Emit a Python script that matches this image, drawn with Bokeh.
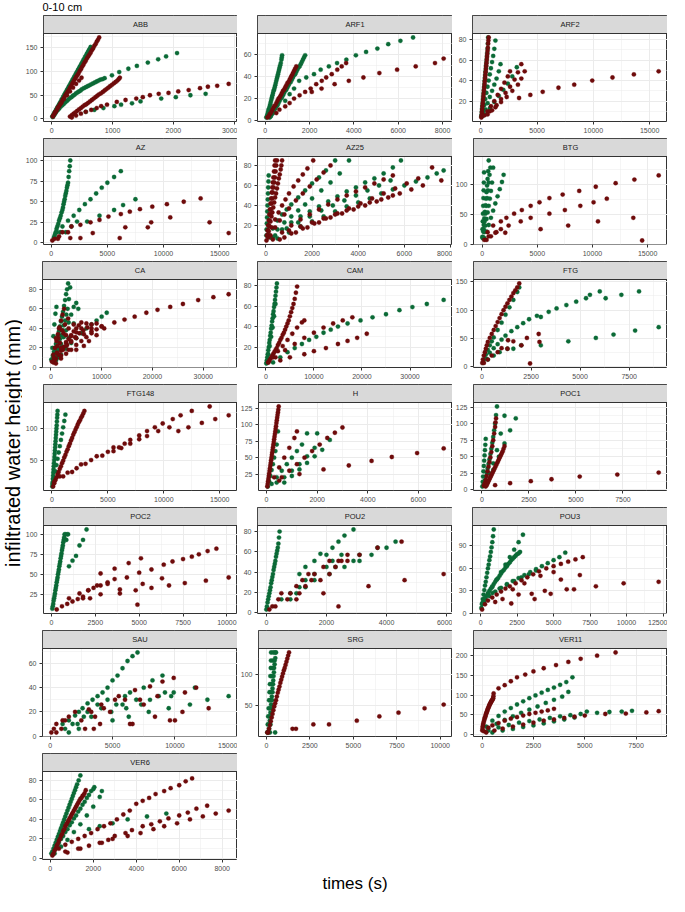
from bokeh.plotting import figure
from bokeh.layouts import column, row
from bokeh.models import FixedTicker, Range1d, Spacer
from bokeh.core.properties import value
from bokeh.embed import file_html
from bokeh.resources import INLINE
import math

# ---------------- data: (time s, infiltrated height mm) ----------------
ABB_green = [(10,5),(40,12),(70,19),(100,26),(130,33),(160,40),(190,47),(220,54),(250,61),(280,68),(310,75),(340,82),(370,89),(400,96),(430,103),(460,110),(490,117),(520,124),(550,131),(580,138),(610,145),(640,152),
             (25,8),(55,15),(85,22),(115,29),(145,36),(175,43),(205,50),(235,57),(265,64),(295,71),(325,78),(355,85),(385,92),(415,99),(445,106),(475,113),(505,120),(535,127),(565,134),(595,141),(625,148),
             (20,4),(60,12),(100,19),(150,26),(200,32),(250,38),(300,44),(350,49),(400,54),(450,58),(500,63),(560,67),(620,71),(680,75),(740,79),(800,83),(870,86),
             (40,8),(80,16),(125,22),(175,29),(225,35),(275,41),(325,46),(375,51),(425,56),(475,60),(530,65),(590,69),(650,73),(710,77),(770,81),(835,84),
             (990,92),(1110,99),(1260,106),(1400,112),(1580,119),(1750,126),(1880,132),(2060,139),
             (560,15),(700,19),(850,23),(1030,27),(1140,30),(1320,33),(1460,37),(1800,43),(2040,46),(2280,50),(2530,53)]
ABB_red = [(20,6),(60,14),(100,23),(140,31),(180,40),(220,49),(260,57),(300,66),(340,75),(380,84),(420,92),(460,101),(500,110),(540,119),(580,128),(620,136),(660,145),(700,154),(740,163),(780,172),
           (40,10),(80,18),(120,27),(160,35),(200,44),(240,53),(280,61),(320,70),(360,79),(400,88),(440,96),(480,105),(520,114),(560,123),(600,132),(640,140),(680,149),(720,158),(760,167),
           (20,5),(60,15),(100,24),(150,33),(200,42),(250,50),(300,58),(350,66),(400,74),(450,81),(490,87),
           (300,5),(360,11),(420,17),(480,23),(540,29),(600,34),(660,40),(720,46),(780,52),(840,57),(900,63),(960,69),(1020,75),(1080,81),(1120,87),
           (330,8),(390,14),(450,20),(510,26),(570,31),(630,37),(690,43),(750,49),(810,54),(870,60),(930,66),(990,72),(1050,78),(1100,84),
           (330,3),(400,7),(480,11),(560,15),(650,19),(740,23),(813,27),(909,30),(1070,36),(1214,40),(1390,43),(1497,46),(1615,50),(1759,53),(1920,55),(2080,58),(2251,61),(2438,65),(2567,68),(2720,70),(2909,74)]

ARF1_green = [(50,3),(100,6),(150,10),(200,13),(250,17),(300,21),(350,25),(400,28),(450,32),(500,36),(550,40),(600,44),(650,48),(700,52),(730,55),(760,59),
              (75,4),(125,8),(175,11),(225,15),(275,19),(325,23),(375,27),(425,30),(475,34),(525,38),(575,42),(625,46),(675,50),(745,57),
              (200,3),(300,6),(400,9),(500,13),(600,16),(700,20),(800,23),(900,27),(1000,30),(1100,34),(1200,37),(1300,41),(1400,44),(1500,48),(1600,51),(1700,55),(1800,59),
              (250,4),(350,7),(450,11),(550,14),(650,18),(750,21),(850,25),(950,28),(1050,32),(1150,35),(1250,39),(1350,42),(1450,46),(1550,49),(1650,53),(1750,57),
              (900,18),(1100,24),(1300,29),(1530,36),(1850,39),(2200,42),(2500,46),(2870,49),(3240,52),(3660,55),(4090,59),(4550,62),(5060,65),(5550,69),(6100,72),(6670,75)]
ARF1_red = [(100,3),(200,6),(300,9),(400,13),(500,16),(600,20),(700,23),(800,27),(900,30),(1000,34),(1100,37),(1200,41),(1300,45),(1400,49),
            (150,4),(250,7),(350,11),(450,14),(550,18),(650,21),(750,25),(850,28),(950,32),(1050,35),(1150,39),(1250,43),(1350,47),
            (500,7),(640,10),(900,13),(1100,16),(1300,20),(1550,23),(1800,26),(2050,29),(2300,33),(2550,36),(2750,39),(3000,42),(3250,46),(3450,49),(3650,52),
            (2100,26),(2540,29),(3130,33),(3770,36),(4430,39),(5150,43),(5950,46),(6790,49),(7660,52),(8050,56)]

ARF2_green = [(50,5),(100,10),(150,16),(200,22),(250,28),(300,34),(350,40),(400,46),(450,52),(500,58),(550,64),(600,71),(650,82),
              (75,7),(125,13),(175,19),(225,25),(275,31),(325,37),(375,43),(425,49),(475,55),(525,61),(575,67),(625,76),
              (100,5),(200,10),(300,16),(400,22),(500,28),(600,34),(700,40),(800,46),(900,52),(1000,58),(1100,64),(1200,71),(1300,79),
              (200,6),(400,12),(600,18),(800,24),(1000,30),(1200,36),(1400,42),(1600,49),(1750,56),
              (400,7),(800,13),(1200,19),(1600,25),(2000,31),(2400,37),(2800,44),(3200,53)]
ARF2_red = [(50,4),(100,9),(150,15),(200,21),(250,27),(300,33),(350,39),(400,45),(450,51),(500,57),(550,63),(600,69),(650,76),(700,82),
            (75,6),(125,12),(175,18),(225,24),(275,30),(325,36),(375,42),(425,48),(475,54),(525,60),(575,66),(625,72),(675,79),
            (300,6),(600,10),(900,15),(1200,20),(1500,26),(1800,32),(2100,38),(2400,44),(2600,49),
            (600,7),(1000,11),(1400,16),(1800,22),(2200,28),(2600,34),(3000,41),(3300,48),(3600,56),
            (800,10),(1300,14),(1800,19),(2300,24),(2800,30),(3300,36),(3600,42),(3900,49),
            (3400,23),(4400,26),(5500,29),(6900,33),(8300,36),(9900,40),(11700,43),(13600,46),(15800,49)]

AZ_green = [(250,7),(400,13),(550,20),(700,27),(850,33),(1000,40),(1100,47),(1200,53),(1300,60),(1400,67),(1500,73),(1550,80),(1600,87),(1650,93),(1700,100),
            (325,10),(475,17),(625,23),(775,30),(925,37),(1050,43),(1150,50),(1250,57),(1350,63),(1450,70),
            (500,13),(1000,20),(1500,27),(2000,33),(2500,40),(3000,47),(3500,53),(4000,60),(4500,67),(5000,73),(5600,80),(6200,87),
            (300,7),(800,13),(1300,13),(1800,20),(2300,26),(3200,26),(4300,33),(5600,40),(6400,46),(7500,53)]
AZ_red = [(100,3),(300,5),(600,5),(700,8),(1000,13),(1500,13),(1800,20),(2600,22),(3500,25),(4300,28),(5100,32),(6200,35),(7000,38),(7900,41),(9000,44),(10300,47),(11800,50),(13300,54),
          (1700,6),(2600,6),(3700,12),(6100,6),(6600,19),(8600,19),(8900,25),(10600,31),(14100,25),(15800,12)]

AZ25_green = [(20,10),(40,22),(60,34),(80,46),(100,58),(120,70),
              (30,16),(50,28),(70,40),(90,52),(110,64),
              (150,10),(300,17),(500,25),(700,31),(900,36),(1100,41),(1400,48),(1700,55),(2000,62),(2300,68),(2600,75),(3000,85),
              (200,8),(500,16),(800,23),(1100,29),(1400,35),(1700,41),(2000,47),(2400,55),(2800,63),(3200,72),(3600,85),
              (300,8),(700,16),(1100,23),(1500,29),(1900,34),(2300,39),(2700,44),(3100,49),(3500,54),(3900,58),(4300,63),(4700,67),(5100,72),(5500,78),(5850,85),
              (500,7),(1000,13),(1500,19),(2000,24),(2500,29),(3000,34),(3500,39),(4000,43),(4500,47),(5000,52),(5500,56),(6000,60),(6500,64),(7000,68),(7400,72),(7700,75),
              (400,10),(900,17),(1400,23),(1900,29),(2400,35),(2900,40),(3400,45),(3900,50),(4400,55),(4900,60),(5400,65)]
AZ25_red = [(50,10),(100,20),(150,31),(200,42),(250,53),(300,63),(350,74),(400,85),
            (25,5),(75,15),(125,25),(175,36),(225,47),(275,58),(325,68),(375,80),
            (60,10),(120,20),(180,31),(240,42),(300,53),(360,63),(420,74),(480,85),
            (90,15),(150,25),(210,36),(270,47),(330,58),(390,68),(450,80),
            (80,10),(160,19),(240,29),(320,38),(400,48),(480,57),(560,67),(640,76),(700,85),
            (120,14),(200,24),(280,33),(360,43),(440,52),(520,62),(600,71),(670,80),
            (100,8),(250,18),(400,26),(550,33),(700,40),(850,46),(1000,52),(1200,59),(1400,65),(1600,71),(1800,77),(2050,85),
            (200,10),(400,18),(600,25),(800,31),(1000,37),(1300,45),(1600,52),(1900,59),(2200,66),(2500,73),(2800,80),
            (300,6),(700,13),(1100,20),(1500,26),(1900,31),(2300,36),(2700,41),(3100,46),(3500,50),(3900,54),(4300,58),(4700,62),(5100,66),(5500,70),
            (600,6),(1100,12),(1600,17),(2100,22),(2600,27),(3100,32),(3600,37),(4100,42),(4600,47),(5100,52),(5600,57),(6100,62),(6600,67),(7200,78),
            (800,8),(1300,13),(1800,18),(2300,23),(2800,28),(3300,32),(3800,36),(4300,40),(4800,44),(5300,48),(5800,52),(6300,56),(6800,60),(7600,65),
            (1000,15),(1500,19),(2000,23),(2500,27),(3000,31),(3500,35),(4000,39),(4500,43),(5000,46),(5500,50)]

BTG_green = [(20,12),(40,25),(60,38),(80,51),(100,64),(120,77),(140,90),(160,103),(180,120),
             (50,10),(100,21),(150,32),(200,43),(250,54),(300,65),(350,76),(400,87),(450,98),(500,109),(550,122),(600,140),
             (75,12),(150,25),(225,38),(300,51),(375,64),(450,77),(525,90),(600,103),(675,116),(750,128),
             (100,10),(200,20),(300,31),(400,42),(500,53),(600,64),(700,76),(800,89),(900,103),(1000,128),
             (200,10),(400,21),(600,32),(800,44),(1000,56),(1200,68),(1400,80),(1600,92),(1800,104),(1950,116)]
BTG_red = [(200,7),(400,7),(800,13),(1300,20),
           (500,20),(1000,31),(1700,38),(2200,44),(2900,51),(3600,57),(4400,64),(5200,70),(6100,77),(7300,83),(8800,89),(10300,96),(12100,102),(13800,108),(16000,115),
           (600,13),(1200,19),(1700,25),(2400,31),(3500,38),(4400,44),(6100,51),(7500,57),(8900,64),(10100,70),(11300,76),
           (2100,19),(5300,25),(7800,31),(10500,38),(13700,44),(14500,6)]

CA_green = [(100,8),(300,20),(500,32),(700,44),(900,55),(1100,62),
            (200,8),(600,16),(1000,24),(1400,33),(1800,42),(2200,52),(2600,63),(3000,75),(3400,86),
            (400,12),(800,20),(1200,28),(1600,37),(2000,47),(2400,57),(2800,69),(3200,80),
            (300,7),(800,14),(1300,21),(1800,29),(2300,38),(2800,48),(3300,60),(3800,82),
            (550,10),(1050,17),(1550,25),(2050,33),(2550,43),(3050,54),(3550,70),
            (500,6),(1000,12),(1500,18),(2000,24),(2500,31),(3000,38),(3500,46),(4000,54),(4500,62),(5000,66),
            (1000,7),(2000,13),(3000,19),(4000,25),(5000,30),(6000,35),(7000,40),(8000,44),(9000,48),(10000,52),(11000,56),
            (1500,10),(2500,20),(3500,30),(4500,45),(5400,60)]
CA_red = [(200,6),(500,13),(800,20),(1100,27),(1400,34),(1700,41),(2000,48),(2300,54),(2600,60),
          (500,5),(1000,9),(1500,13),(2000,17),(2500,21),(3000,25),(3500,29),(4000,33),(4500,37),(5000,40),(5500,43),(6000,46),
          (800,8),(1600,13),(2400,18),(3200,23),(4000,27),(4800,31),(5600,35),(6400,38),(7200,41),(8000,44),
          (1000,4),(2000,9),(3000,14),(4000,18),(5000,23),(6000,27),(7000,31),(8000,35),(9000,39),(10000,42),
          (1200,15),(2000,20),(3000,26),(4000,32),(5000,36),
          (1500,30),(2500,35),(3500,40),(4500,44),(1800,25),(3000,33),(6000,40),(7000,45),(8000,40),(9000,45),
          (2000,12),(3500,18),(5000,18),(6500,22),(7500,27),(9000,33),(10500,40),(600,10),(1300,22),(2200,38),(2800,44),(3400,50),(1000,30),(1600,40),
          (3000,22),(4000,26),(5000,30),(6500,34),(8000,37),(10000,42),(12500,46),(14500,49),(16500,52),(18800,56),(21000,59),(23500,62),(26000,65),(29000,69),(32000,72),(35000,75)]

CAM_green = [(100,4),(300,10),(500,17),(700,24),(900,31),(1100,38),(1300,45),(1500,52),(1700,59),(1900,66),(2100,74),(2300,82),
             (200,7),(400,13),(600,20),(800,27),(1000,34),(1200,41),(1400,48),(1600,55),(1800,62),(2000,70),(2200,78),
             (200,5),(500,13),(800,21),(1100,30),(1400,39),(1700,50),(2000,62),
             (1500,5),(3000,10),(4500,15),(6000,19),(7500,23),(9000,27),(10500,30),(12000,34),(13500,37),(15000,40),(17000,43),(19700,46),(22200,49),(25000,52),(27800,56),(30500,59),(33500,62),(37000,66)]
CAM_red = [(500,5),(1000,9),(1500,13),(2000,17),(2500,22),(3000,27),(3500,32),(4000,37),(4500,43),(5000,50),(5500,58),(6000,67),(6500,79),
           (750,7),(1250,11),(1750,15),(2250,19),(2750,24),(3250,29),(3750,34),(4250,40),(4750,46),(5250,54),(5750,62),(6250,73),
           (500,5),(1500,10),(2500,16),(3500,21),(4500,27),(5500,33),(6500,39),(7500,44),(8000,46),
           (2000,10),(4000,17),(6000,23),(8000,29),(10000,34),(12000,39),(14000,43),(16000,46),(18000,49),
           (3000,7),(5000,10),(8000,13),(10000,16),(12500,19),(15000,23),(17000,26),(19000,29),(21000,33)]

FTG_green = [(50,7),(100,13),(200,22),(300,30),(400,38),(500,45),(600,52),(800,65),(1000,78),(1200,92),(1400,105),(1600,118),(1800,132),(1900,140),
             (200,15),(400,25),(600,33),(800,40),(1000,48),(1200,55),(1500,63),(1800,70),(2100,77),(2400,84),(2800,90),(3000,88),(3400,97),(3800,103),(4300,109),(4800,115),(5300,121),(5500,127),(6000,133),(6300,121),(7100,127),(8000,133),
             (300,13),(600,20),(900,26),(1300,32),(1600,32),(2000,38),(3000,38),(4400,45),(5800,51),(6700,57),(7800,64),(9000,70)]
FTG_red = [(20,7),(50,13),(100,20),(150,26),(200,32),(250,38),(300,44),(400,51),(500,58),(600,65),(700,72),(800,79),(900,86),(1000,93),(1100,100),(1200,106),(1300,112),(1400,118),(1500,124),(1600,130),(1700,135),(1800,140),(1900,147),
           (100,7),(300,13),(500,20),(800,26),(1000,33),(1330,47),(1300,32),(2010,38),(2290,51),(2890,58),(2930,44),(2450,6),(1600,45)]

FTG148_green = [(30,8),(60,15),(100,25),(140,35),(180,45),(220,55),(260,65),(300,75),(340,85),(380,95),(420,105),(460,117),(500,128),
                (45,12),(80,20),(120,30),(160,40),(200,50),(240,60),(280,70),(320,80),(360,90),(400,100),(440,111),(480,122),
                (100,12),(200,22),(300,32),(400,42),(500,52),(600,62),(700,72),(800,82),(900,92),(1000,102),(1100,112),(1200,122)]
FTG148_red = [(100,8),(300,18),(500,27),(700,36),(900,45),(1100,54),(1300,63),(1500,72),(1700,81),(1900,90),(2100,98),(2300,106),(2500,113),(2700,120),(2900,128),
              (200,13),(400,22),(600,31),(800,40),(1000,49),(1200,58),(1400,67),(1600,76),(1800,85),(2000,94),(2200,102),(2400,110),(2600,117),(2800,124),
              (200,15),(700,24),(1000,24),(1400,30),(1800,31),(2200,37),(2600,43),(3000,44),(3500,50),(4000,56),(4500,57),(5000,63),(5500,70),(6000,70),(6500,76),(7000,82),(7800,89),(8500,96),(9200,102),(9900,108),(10800,115),(11500,121),(12500,128),(14100,135),
              (5500,64),(6200,69),(7000,76),(7800,83),(8500,88),(9500,96),(10500,102),(11300,96),(12200,102),(13400,109),(14600,115),(15800,121)]

H_green = [(50,6),(100,14),(150,22),(200,31),(250,40),(300,50),(350,60),(400,70),(450,90),
           (200,10),(400,20),(600,30),(800,40),(1000,50),(1200,60),(1400,70),(1600,87),
           (400,12),(700,20),(1000,30),(1300,40),(1600,52),(1900,65),(2000,87),
           (700,12),(1000,22),(1300,32),(1600,42),(1900,52),(2200,62),(2500,77)]
H_red = [(30,6),(60,14),(90,22),(120,30),(150,38),(180,46),(210,54),(240,62),(270,70),(300,78),(330,86),(360,94),(390,103),(420,111),(450,119),(480,128),
         (45,10),(75,18),(105,26),(135,34),(165,42),(195,50),(225,58),(255,66),(285,74),(315,82),(345,90),(375,98),(405,107),(435,115),(465,123),
         (300,20),(500,35),(700,50),(900,65),(1100,80),(1200,90),
         (600,20),(900,30),(1200,40),(1500,50),(1800,60),(2100,70),(2400,80),(2700,88),(3000,96),
         (500,15),(1300,25),
         (2250,32),(3250,38),(4150,45),(4950,51),(5950,57),(7000,64)]

POC1_green = [(20,5),(40,12),(60,20),(80,28),(100,36),(120,44),(140,52),(160,60),(180,68),(200,77),
              (100,8),(200,20),(300,32),(400,46),(500,62),(600,80),(700,100),(800,126),
              (150,14),(250,26),(350,39),(450,54),(550,71),(650,90),(750,113),
              (200,10),(400,25),(600,40),(800,60),(1000,85),(1200,112),
              (300,12),(600,30),(900,50),(1200,70),(1500,90),(1800,108)]
POC1_red = [(100,6),(200,15),(300,28),(400,42),(500,57),(600,75),(700,95),(750,108),
            (150,10),(250,21),(350,35),(450,49),(550,66),(650,85),(720,102),
            (200,5),(300,10),(400,16),(500,22),(600,28),(700,34),(800,40),(900,46),(1000,52),(1100,58),(1200,66),
            (250,7),(350,13),(450,19),(550,25),(650,31),(750,37),(850,43),(950,49),(1050,55),(1150,62),
            (700,7),(1500,10),(2600,13),(3700,16),(5200,20),(7200,23),(9400,26)]

POC2_green = [(50,7),(100,13),(150,20),(200,26),(250,33),(300,40),(350,46),(400,53),(450,60),(500,66),(550,73),(600,80),(650,86),(700,93),(750,100),(800,100),(850,93),(900,100),(950,100),
              (75,10),(125,17),(175,23),(225,30),(275,36),(325,43),(375,50),(425,56),(475,63),(525,70),(575,76),(625,83),(675,90),(725,96),
              (1000,60),(1200,67),(1400,73),(1600,86),(1800,93),(2000,106)]
POC2_red = [(300,6),(600,10),(900,13),(1200,16),(1500,19),(1800,22),(2100,30),(2400,33),(2800,36),(3200,40),(3600,44),(4300,46),(5000,52),(5700,56),(6400,62),(6900,66),(7500,69),(8000,72),(8400,75),(8900,79),(9400,82),
            (2800,51),(3600,57),(4400,64),(5100,70),
            (1000,20),(1600,26),(2100,30),(2600,36),(3200,38),(3900,31),(4800,30),(5200,38),(5700,33),(6300,45),(6700,36),(7600,39),(8800,42),(10100,46),(4900,12),
            (1800,20),(2200,20),(2800,25),(3900,26)]

POU2_green = [(0,3),(40,10),(80,16),(120,22),(160,29),(200,35),(240,42),(280,48),(320,55),(360,61),(400,68),(440,80),
              (20,6),(60,13),(100,19),(140,25),(180,32),(220,38),(260,45),(300,51),(340,58),(380,64),(420,74),
              (1100,38),(1300,45),(1600,51),(1800,58),(2000,57),(2200,64),(2400,70),(2600,76),(2900,82),
              (800,19),(1100,25),(1300,32),(1600,38),(2000,45),(2200,51),(2500,57),(3100,57),(3500,57),(3700,64),(4000,64),(4300,70),
              (500,13),(800,13),(1000,19),(1300,25),(1600,32),(2100,38),(2300,45),(2600,45),(2900,51),(3100,51)]
POU2_red = [(100,3),(200,6),(300,6),(400,13),(500,19),(800,19),(1000,26),(1200,32),(1400,38),(1600,38),(1900,45),(2100,51),(2400,51),(2700,57),(3100,57),(3700,64),(4500,70),
            (700,13),(1000,13),(1100,19),(1300,26),(1500,32),(1800,32),(2100,38),(2300,45),(2500,51),(2700,51),
            (1900,19),(2400,6),(3400,26),(4600,32),(5900,38)]

POU3_green = [(50,7),(100,13),(200,25),(300,37),(400,48),(500,60),(600,71),(700,82),(800,95),(900,112),
              (150,19),(250,31),(350,42),(450,54),(550,65),(650,76),(750,88),(850,103),
              (200,15),(500,25),(800,35),(1100,45),(1400,55),(1700,65),(2000,75),(2300,85),(2600,95),(2900,105),
              (100,12),(300,20),(500,27),(700,33),(900,39),(1100,45),(1300,50),(1500,56),(1700,61),(1900,66),(2100,71),(2300,75),(2500,79),(2700,82),
              (200,16),(400,23),(600,30),(800,36),(1000,42),(1200,47),(1400,53),(1600,58),(1800,63),(2000,68),(2200,73),(2400,77),(2600,80),
              (200,15),(600,23),(1000,29),(1400,34),(1800,39),(2200,43),(2600,47),(3000,51),(3400,55),(3800,59),(4200,63),(4600,67),(5000,71),(5400,75),(5800,81),
              (300,20),(800,27),(1300,33),(1800,38),(2300,43),(2800,48),(3300,52),(3800,57)]
POU3_red = [(100,5),(300,12),(500,17),(800,21),(1100,25),(1400,29),(1700,33),(2000,36),(2400,40),(2800,44),(3200,48),(3600,52),(4000,56),(4500,60),(5000,63),(5500,66),(6000,69),(6500,72),(7000,75),
            (1000,15),(1500,19),(2100,13),(2200,32),(2600,25),(3000,40),(3500,26),(3700,19),(4100,50),(4400,30),(4800,26),(5000,55),(5500,45),(5900,32),(6400,32),(6800,51),(7900,36),(9800,40),(12200,42)]

SAU_green = [(1000,10),(1500,13),(2000,17),(2300,20),(2600,23),(3000,27),(3400,30),(3800,33),(4200,36),(4600,40),(5000,46),(5400,50),(5800,56),(6200,62),(6600,66),(7000,69),
             (1500,3),(1200,6),(1800,10),(2200,10),(2300,6),(2700,16),(3000,20),(3300,16),(3800,26),(4100,23),(4600,30),(5000,13),(5300,26),(5800,26),(6000,33),(6400,36),(6900,30),(7500,40),(7900,20),(8200,46),(9000,50),(9200,36),(8700,33),(9700,33),(9900,36),(11600,40),(11200,26),(12600,30),(14300,33),(9500,23),(4900,20),(6100,23),(6300,16),(7300,26),(8000,30)]
SAU_red = [(100,3),(300,6),(500,3),(500,10),(900,6),(1000,13),(1200,13),(1500,16),(2000,20),(2500,13),(2800,6),(3100,22),(3300,20),(3500,6),(3600,16),(4000,10),(4100,26),(4300,23),(4800,20),(5200,30),(5500,33),(6000,30),(6400,10),(6600,10),(6800,38),(7200,30),(7500,26),(8000,41),(8400,16),(8600,33),(9000,45),(9600,13),(10000,13),(9900,48),(10600,20),(10800,36),(11700,40),(12700,23)]

SRG_green = [(50,6),(75,19),(100,32),(125,45),(150,58),(175,71),(200,84),(225,97),(250,110),(260,122),(270,135),
             (100,6),(130,19),(160,32),(190,45),(220,58),(250,71),(280,84),(310,97),(340,110),(370,122),(400,135),
             (200,6),(230,19),(260,32),(290,45),(320,58),(350,71),(380,84),(410,97),(440,110),(470,122),(500,135),
             (150,12),(190,25),(230,38),(270,51),(310,64),(350,77),(390,90),(430,103),(470,116),(510,126),(550,135),
             (500,6)]
SRG_red = [(100,6),(200,18),(300,30),(400,42),(500,53),(600,64),(700,75),(800,86),(900,96),(1000,106),(1100,115),(1200,125),(1300,135),
           (150,12),(250,24),(350,36),(450,48),(550,58),(650,70),(750,80),(850,91),(950,101),(1050,110),(1150,120),(1250,130),
           (50,6),(1500,12),(1700,12),(2700,19),(3600,19),(5200,25),(6500,32),(7600,38),(9100,45),(10200,51)]

VER11_green = [(200,20),(500,35),(800,47),(1100,58),(1400,67),(1700,76),(2000,84),(2300,92),(2600,99),(2900,106),(3200,113),(3500,119),(3800,126),(4100,133),(4400,145),
               (300,15),(700,27),(1100,37),(1500,46),(1900,55),(2300,63),(2700,71),(3100,80),(3500,88),(3900,96),(4200,108),
               (300,10),(800,18),(1300,24),(1800,30),(2300,34),(2800,38),(3300,42),(3800,46),(4300,49),(4800,52),(5100,58),(5600,55),(6200,57),(6800,58),(7300,60),
               (500,5),(1000,10),(1500,14),(2000,19),(2500,23),(3000,28),(3500,33),(4000,38),(4500,43)]
VER11_red = [(10,10),(30,20),(60,28),(100,36),(140,43),(180,50),(220,56),(260,62),(300,67),(340,72),(380,77),(420,81),(460,85),(500,88),(540,92),(560,104),
             (20,15),(45,24),(80,32),(120,40),(160,46),(200,53),(240,59),(280,65),(320,70),(360,75),(400,79),(440,83),(480,86),(520,90),(550,97),
             (800,117),(1100,125),(1400,135),(1700,145),(2100,152),(2500,160),(3000,168),(3600,176),(4200,184),(4800,192),(5600,200),(6500,208),
             (100,8),(300,17),(500,23),(800,29),(1100,35),(1400,40),(1700,44),(2000,48),(2300,52),(2600,55),(2900,58),(3200,61),(3500,65),
             (200,5),(600,10),(1000,15),(1500,20),(2000,25),(2500,30),(3000,35),(3500,38),(4000,42),(4500,45),(5000,48),(6000,52),(7000,53),(8000,56),(8600,59)]

VER6_green = [(50,5),(150,10),(250,16),(350,22),(450,28),(550,34),(650,40),(750,46),(850,52),(950,58),(1050,64),(1150,70),(1250,76),(1400,85),
              (100,7),(200,13),(300,19),(400,25),(500,31),(600,37),(700,43),(800,49),(900,55),(1000,61),(1100,67),(1200,73),(1320,80),
              (100,5),(300,13),(500,20),(700,27),(900,34),(1100,41),(1300,48),(1500,55),(1700,62),(1900,69),(2050,73),
              (200,9),(400,16),(600,23),(800,30),(1000,37),(1200,44),(1400,51),(1600,58),(1800,65),(2000,71),
              (200,5),(500,12),(800,19),(1100,27),(1400,35),(1700,44),(2000,53),(2300,63),(2400,69),
              (1800,30),(2300,33),(2900,36),(3600,40),(4500,43),(5400,46)]
VER6_red = [(100,3),(200,8),(300,13),(400,18),(500,23),(600,28),(700,33),(800,37),(900,41),(1000,45),(1100,49),(1200,53),(1300,57),(1400,61),(1500,64),(1600,67),(1650,70),
            (150,5),(250,10),(350,15),(450,20),(550,25),(650,30),(750,35),(850,39),(950,43),(1050,47),(1150,51),(1250,55),(1350,59),(1450,62),(1550,65),
            (400,10),(700,14),(1000,17),(1300,20),(1600,23),(1900,26),(2200,30),(2500,33),(2800,36),(3100,40),(3400,45),(3700,49),(4000,56),(4300,59),(4600,62),(4900,66),(5300,69),(5600,72),(6000,75),(6300,79),(6600,82),
            (700,7),(800,6),(1300,10),(1400,10),(1800,13),(2300,16),(2400,16),(2700,19),(2900,20),(3000,23),(3500,26),(3600,23),(3800,29),(4200,26),(4300,33),(4700,35),(4800,30),(5100,38),(5300,33),(5500,41),(5900,36),(6000,44),(6400,47),(6500,40),(6800,51),(7100,43),(7300,54),(7700,46),(8300,49)]

# tick labels per panel
ABB_xticks = [0, 1000, 2000, 3000];            ABB_yticks = [0, 50, 100, 150]
ARF1_xticks = [0, 2000, 4000, 6000, 8000];     ARF1_yticks = [0, 20, 40, 60]
ARF2_xticks = [0, 5000, 10000, 15000];         ARF2_yticks = [0, 20, 40, 60, 80]
AZ_xticks = [0, 5000, 10000, 15000];           AZ_yticks = [0, 25, 50, 75, 100]
AZ25_xticks = [0, 2000, 4000, 6000, 8000];     AZ25_yticks = [0, 20, 40, 60, 80]
BTG_xticks = [0, 5000, 10000, 15000];          BTG_yticks = [0, 50, 100]
CA_xticks = [0, 10000, 20000, 30000];          CA_yticks = [0, 20, 40, 60, 80]
CAM_xticks = [0, 10000, 20000, 30000];         CAM_yticks = [0, 20, 40, 60, 80]
FTG_xticks = [0, 2500, 5000, 7500];            FTG_yticks = [0, 50, 100, 150]
FTG148_xticks = [0, 5000, 10000, 15000];       FTG148_yticks = [50, 100]
H_xticks = [0, 2000, 4000, 6000];              H_yticks = [25, 50, 75, 100, 125]
POC1_xticks = [0, 2500, 5000, 7500];           POC1_yticks = [0, 25, 50, 75, 100, 125]
POC2_xticks = [0, 2500, 5000, 7500, 10000];    POC2_yticks = [0, 25, 50, 75, 100]
POU2_xticks = [0, 2000, 4000, 6000];           POU2_yticks = [0, 20, 40, 60, 80]
POU3_xticks = [0, 2500, 5000, 7500, 10000, 12500]; POU3_yticks = [0, 30, 60, 90]
SAU_xticks = [0, 5000, 10000, 15000];          SAU_yticks = [0, 20, 40, 60]
SRG_xticks = [0, 2500, 5000, 7500, 10000];     SRG_yticks = [50, 100]
VER11_xticks = [0, 2500, 5000, 7500];          VER11_yticks = [0, 50, 100, 150, 200]
VER6_xticks = [0, 2000, 4000, 6000, 8000];     VER6_yticks = [0, 20, 40, 60, 80]

sites = ["ABB", "ARF1", "ARF2", "AZ", "AZ25", "BTG", "CA", "CAM", "FTG", "FTG148",
         "H", "POC1", "POC2", "POU2", "POU3", "SAU", "SRG", "VER11", "VER6"]
title_text = "0-10 cm"
xlab = "times (s)"
ylab = "infiltrated water height (mm)"

GREEN = "#0b6a36"
RED = "#6e0b0b"
FONT = "Liberation Sans"

# ---------------- layout constants ----------------
YLAB_W = 22
PANEL_W = 215
PANEL_H = 123
LB, TB, BB = 20, 3, 14
STRIP = 18
TITLE_H = 12
XLAB_H = 20

g = globals()


def minors(ticks):
    step = ticks[1] - ticks[0]
    out = []
    t = ticks[0] - step / 2
    while t < ticks[-1] + step:
        out.append(t)
        t += step
    return out


def panel(name):
    green = g[name + "_green"]
    red = g[name + "_red"]
    xt = g[name + "_xticks"]
    yt = g[name + "_yticks"]
    xs = [p[0] for p in green + red]
    ys = [p[1] for p in green + red]
    dx = max(xs) - min(xs)
    dy = max(ys) - min(ys)
    xlo, xhi = min(xs) - 0.05 * dx, max(xs) + 0.05 * dx
    ylo, yhi = min(ys) - 0.05 * dy, max(ys) + 0.05 * dy
    frame_h = PANEL_H - TB - BB
    plot_h = frame_h - STRIP
    ytop = yhi + (yhi - ylo) * STRIP / plot_h

    p = figure(width=PANEL_W, height=PANEL_H, x_range=Range1d(xlo, xhi),
               y_range=Range1d(ylo, ytop), output_backend="svg",
               toolbar_location=None, min_border_left=LB, min_border_right=0,
               min_border_top=TB, min_border_bottom=BB)
    p.background_fill_color = "white"
    p.border_fill_color = "white"
    p.outline_line_color = "#333333"
    p.outline_line_width = 1

    xtick = FixedTicker(ticks=xt, minor_ticks=minors(xt))
    ytick = FixedTicker(ticks=[t for t in yt if ylo <= t <= yhi], minor_ticks=minors(yt))
    p.xaxis.ticker = xtick
    p.yaxis.ticker = ytick
    p.xgrid.ticker = xtick
    p.ygrid.ticker = ytick
    for gr in (p.xgrid, p.ygrid):
        gr.grid_line_color = "#ebebeb"
        gr.grid_line_width = 1
        gr.minor_grid_line_color = "#ebebeb"
        gr.minor_grid_line_width = 0.5
    for ax in (p.xaxis, p.yaxis):
        ax.axis_line_color = None
        ax.major_tick_line_color = "#333333"
        ax.major_tick_out = 3
        ax.major_tick_in = 0
        ax.minor_tick_line_color = None
        ax.major_label_text_font_size = "7px"
        ax.major_label_text_color = "#4d4d4d"
        ax.major_label_text_font = FONT
        ax.major_label_standoff = 2

    p.scatter([q[0] for q in green], [q[1] for q in green], size=4.3,
              fill_color=GREEN, line_color=GREEN, line_width=0.3)
    p.scatter([q[0] for q in red], [q[1] for q in red], size=4.3,
              fill_color=RED, line_color=RED, line_width=0.3)

    # facet strip
    p.quad(left=[xlo], right=[xhi], bottom=[yhi], top=[ytop],
           fill_color="#d9d9d9", line_color="#333333", line_width=1)
    p.text(x=[(xlo + xhi) / 2], y=[(yhi + ytop) / 2], text=[name],
           text_font=value(FONT), text_font_size="7.5px", text_color="#1a1a1a",
           text_font_style="normal",
           text_align="center", text_baseline="middle")
    return p


def blank(w, h):
    f = figure(width=w, height=h, x_range=Range1d(0, w), y_range=Range1d(0, h),
               output_backend="svg", toolbar_location=None,
               x_axis_location=None, y_axis_location=None, min_border=0)
    f.grid.visible = False
    f.outline_line_color = None
    f.background_fill_color = "white"
    f.border_fill_color = "white"
    return f


panels = [panel(n) for n in sites]
rows = []
for i in range(0, len(panels), 3):
    chunk = panels[i:i + 3]
    if len(chunk) < 3:
        chunk = chunk + [Spacer(width=PANEL_W * (3 - len(chunk)), height=PANEL_H)]
    rows.append(row(*chunk))
grid = column(*rows)
grid_h = PANEL_H * len(rows)

ylab_fig = blank(YLAB_W, grid_h)
ylab_fig.text(x=[YLAB_W / 2 + 1], y=[grid_h / 2], text=[ylab], angle=math.pi / 2,
              text_font=value(FONT), text_font_size="20px", text_color="black",
              text_align="center", text_baseline="middle")

total_w = YLAB_W + 3 * PANEL_W
title_fig = blank(total_w, TITLE_H)
title_fig.text(x=[YLAB_W + LB], y=[TITLE_H / 2], text=[title_text],
               text_font=value(FONT), text_font_size="11px", text_color="black",
               text_align="left", text_baseline="middle")

xlab_fig = blank(total_w, XLAB_H)
xlab_fig.text(x=[YLAB_W + PANEL_W + LB + (PANEL_W - LB) / 2], y=[XLAB_H / 2], text=[xlab],
              text_font=value(FONT), text_font_size="17px", text_color="black",
              text_align="center", text_baseline="middle")

layout = column(title_fig, row(ylab_fig, grid), xlab_fig)

open("out.html", "w").write(file_html(layout, INLINE))
